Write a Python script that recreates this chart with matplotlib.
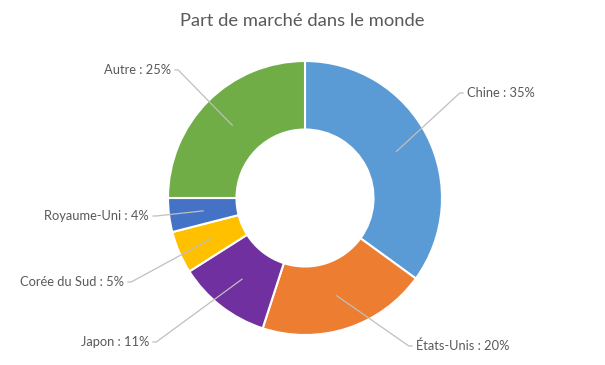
import numpy as np
import matplotlib.pyplot as plt

plt.rcParams['font.family'] = ['Lato', 'DejaVu Sans']

countries = ['Chine', 'États-Unis', 'Japon', 'Corée du Sud', 'Royaume-Uni', 'Autre']
shares = [35, 20, 11, 5, 4, 25]
colors = ['#5B9BD5', '#ED7D31', '#7030A0', '#FFC000', '#4472C4', '#70AD47']

# label text positions (pixels, y from top) and alignment
label_pos = [(467, 93), (416, 346), (149, 342), (124, 282), (149, 216), (171, 70)]
label_ha = ['left', 'left', 'right', 'right', 'right', 'right']

W, H = 605, 365
fig = plt.figure(figsize=(W / 100, H / 100), dpi=100)
ax = fig.add_axes([0, 0, 1, 1])

cx, cy, R = 305, H - 198, 137
hole = 0.5
ax.pie(shares, colors=colors, startangle=90, counterclock=False,
       center=(cx, cy), radius=R,
       wedgeprops=dict(width=R * (1 - hole), edgecolor='white', linewidth=1.5))

# pie() resets the limits, so set them afterwards
ax.set_xlim(0, W)
ax.set_ylim(0, H)
ax.set_aspect('equal')
ax.axis('off')

grey = '#595959'
total = sum(shares)
start = 90.0
for name, val, (tx, ty), ha in zip(countries, shares, label_pos, label_ha):
    mid = np.deg2rad(start - val / total * 360 / 2)
    start -= val / total * 360
    rm = R * (1 + hole) / 2
    px, py = cx + rm * np.cos(mid), cy + rm * np.sin(mid)
    ty = H - ty
    gap = 4 if ha == 'left' else -4
    ex = tx - gap
    ax.plot([px, ex - gap * 0.8, ex], [py, ty, ty], color='#BFBFBF', lw=0.9)
    ax.text(tx, ty, f'{name} : {val}%', ha=ha, va='center', fontsize=9.3, color=grey)

ax.text(W / 2, H - 21, 'Part de marché dans le monde', ha='center', va='center',
        fontsize=13.2, color=grey)

fig.savefig('out.png', dpi=100)
